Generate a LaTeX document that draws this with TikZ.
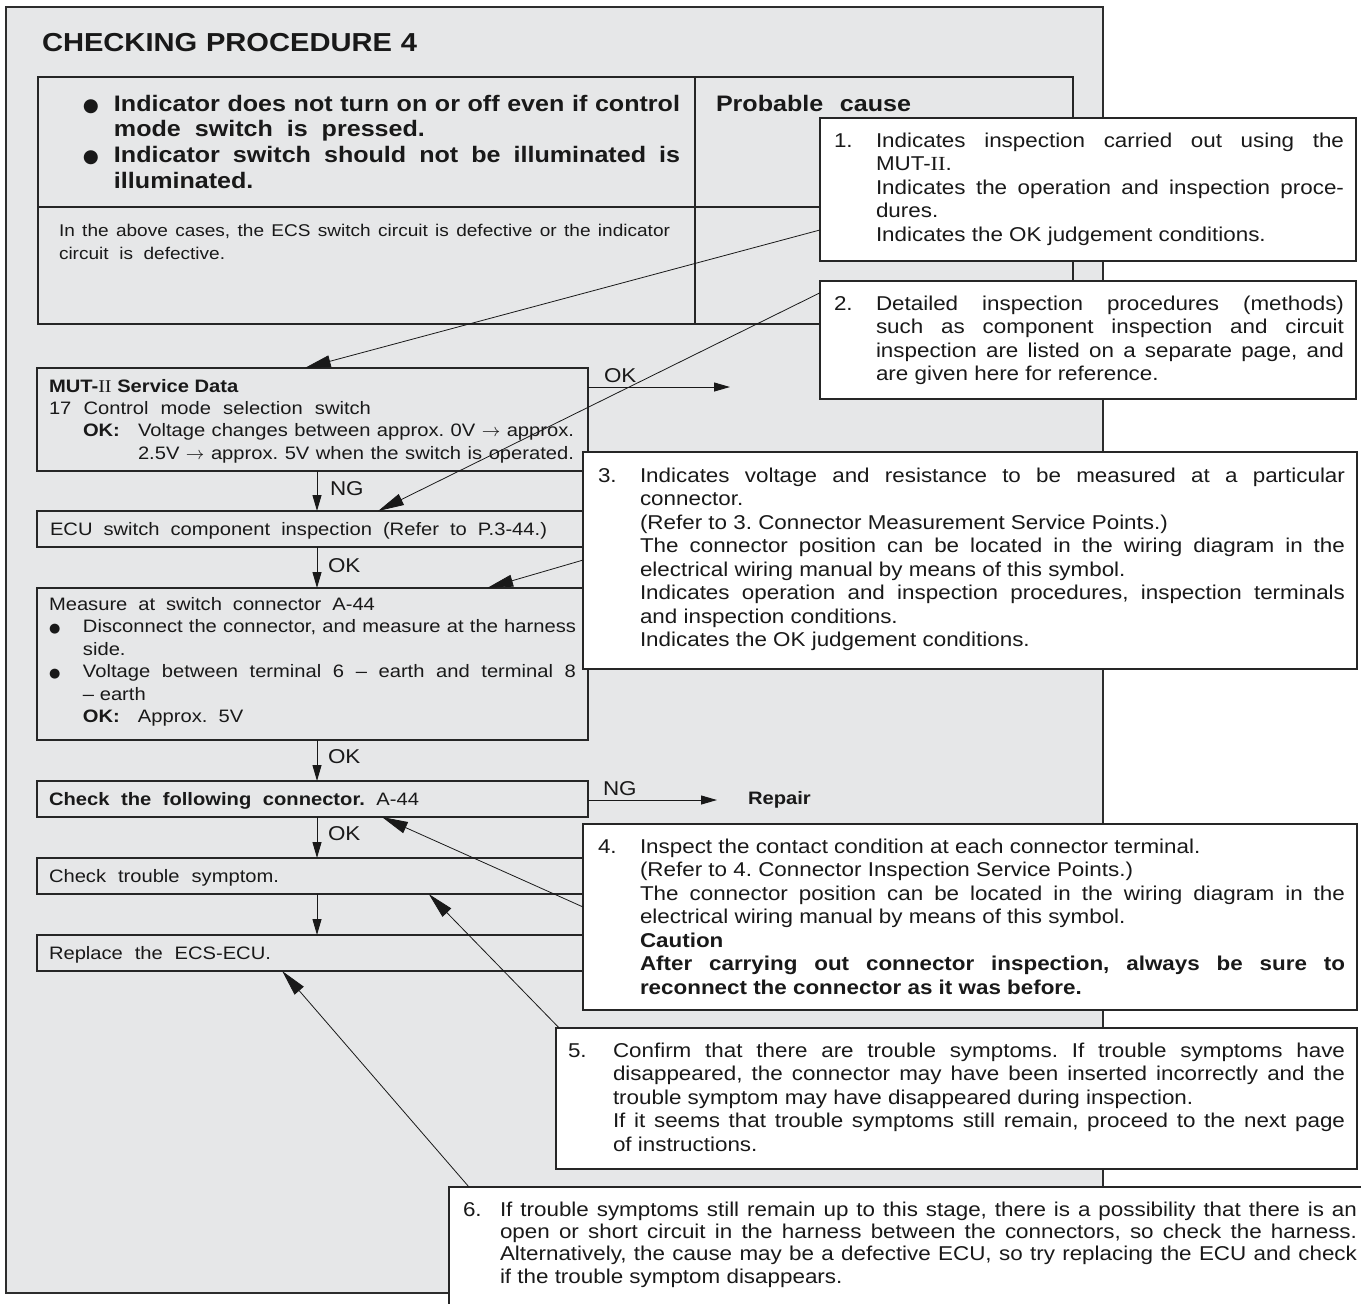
\documentclass[tikz,border=0pt]{standalone}
\usepackage{fontspec}
\setmainfont{Liberation Sans}[FakeStretch=1.12]
\newfontfamily\rmser{Liberation Serif}[FakeStretch=1.12]
\newfontfamily\dejavu{DejaVu Sans}
\usetikzlibrary{arrows.meta,calc,shadows}
\definecolor{panelgray}{RGB}{230,231,232}
\definecolor{edgegray}{RGB}{45,45,45}
\newlength\cw
\newcommand\jl[1]{\hbox to \cw{#1}}
\newcommand\rl[1]{\hbox{#1}}
\newcommand\smbul{{\dejavu\fontsize{6.5}{6.5}\selectfont ●}}
\newcommand\bigbul{{\dejavu\fontsize{9.2}{9.2}\selectfont ●}}
\hbadness=10000
\hfuzz=20pt
\frenchspacing
\begin{document}
\begin{tikzpicture}[x=0.5pt,y=-0.5pt,
  panel/.style={draw=edgegray, fill=panelgray, line width=0.6pt, inner sep=0, outer sep=0, anchor=north west},
  tblbox/.style={draw=black!85, line width=0.6pt, inner sep=0, outer sep=0, anchor=north west},
  flowbox/.style={draw=black!85, line width=0.6pt, inner sep=0, outer sep=0, anchor=north west, minimum width=275.5pt},
  callout/.style={draw=black!85, fill=white, line width=0.6pt, inner sep=0, outer sep=0, anchor=north west,
     drop shadow={shadow xshift=0.7pt, shadow yshift=-0.7pt, opacity=0.55, fill=black}},
  txt/.style={inner sep=0, outer sep=0, anchor=base west, text=black!90},
  ctxt/.style={txt, font=\fontsize{10}{11.75}\selectfont},
  ftxt/.style={txt, font=\fontsize{9}{11.2}\selectfont},
  lbl/.style={txt, font=\fontsize{10}{12}\selectfont},
  flowarr/.style={draw=black!90, line width=0.5pt, -{Triangle[length=8pt,width=4.5pt]}},
  callarr/.style={draw=black!90, line width=0.4pt, -{Triangle[length=13pt,width=6pt]}}
]
\useasboundingbox (0,0) rectangle (1361,1303);

% background panel
\node[panel, minimum width=548.5pt, minimum height=643pt] (panel) at (6,7) {};

% title
\node[txt, font=\bfseries\fontsize{13}{15}\selectfont] (title) at (42,51)
  {\hbox to 187.5pt{CHECKING PROCEDURE 4}};

% table
\node[tblbox, minimum width=517.5pt, minimum height=123.5pt] (tbl) at (38,77) {};
\coordinate (hdiv) at (0,207);
\coordinate (vdiv) at (695,0);
\draw[draw=black!85, line width=0.6pt] (tbl.west |- hdiv) -- (tbl.east |- hdiv);
\draw[draw=black!85, line width=0.6pt] (vdiv |- tbl.north) -- (vdiv |- tbl.south);

\node[txt, font=\bfseries\fontsize{11.2}{12.85}\selectfont] (sympt) at (83,111)
  {\vtop{\baselineskip=12.85pt
   \hbox{\hbox to 15.5pt{\bigbul\hss}\hbox to 283pt{Indicator does not turn on or off even if control}}
   \hbox{\hspace{15.5pt}mode\ \ switch\ \ is\ \ pressed.}
   \hbox{\hbox to 15.5pt{\bigbul\hss}\hbox to 283pt{Indicator switch should not be illuminated is}}
   \hbox{\hspace{15.5pt}illuminated.}}};
\node[txt, font=\bfseries\fontsize{11.2}{12.85}\selectfont] (probc) at (716,111)
  {\hbox to 97.5pt{Probable cause}};
\node[txt, font=\fontsize{8.5}{11.5}\selectfont] (cases) at (59,236)
  {\vtop{\baselineskip=11.6pt
   \hbox to 305.5pt{In the above cases, the ECS switch circuit is defective or the indicator}
   \hbox{circuit\ \ is\ \ defective.}}};

% flow boxes
\node[flowbox, minimum height=51.5pt] (mut) at (37,368) {};
\node[flowbox, minimum height=18pt] (ecu) at (37,511) {};
\node[flowbox, minimum height=76pt] (meas) at (37,588) {};
\node[flowbox, minimum height=18pt] (chk) at (37,781) {};
\node[flowbox, minimum height=18pt] (sym) at (37,858) {};
\node[flowbox, minimum height=18pt] (rep) at (37,935) {};

% flow texts
\node[ftxt] (mutt) at (49,392)
  {\vtop{\baselineskip=11.2pt
   \rl{\textbf{MUT-{\mdseries\rmser II} Service Data}}
   \hbox to 161pt{17 Control mode selection switch}
   \hbox{\hspace{17pt}\hbox to 27.5pt{\textbf{OK:}\hss}\hbox to 218pt{Voltage changes between approx. 0V $\rightarrow$ approx.}}
   \hbox{\hspace{44.5pt}\hbox to 218pt{2.5V $\rightarrow$ approx. 5V when the switch is operated.}}}};
\node[ftxt] (ecut) at (50,535)
  {\hbox to 248.5pt{ECU switch component inspection (Refer to P.3-44.)}};
\node[ftxt] (meast) at (49,610)
  {\vtop{\baselineskip=11.25pt
   \hbox to 163pt{Measure at switch connector A-44}
   \hbox{\hbox to 17pt{\smbul\hss}\hbox to 246.5pt{Disconnect the connector, and measure at the harness}}
   \hbox{\hspace{17pt}side.}
   \hbox{\hbox to 17pt{\smbul\hss}\hbox to 246.5pt{Voltage between terminal 6 – earth and terminal 8}}
   \hbox{\hspace{17pt}– earth}
   \hbox{\hspace{17pt}\hbox to 27.5pt{\textbf{OK:}\hss}Approx.\ \ 5V}}};
\node[ftxt] (chkt) at (49,805)
  {\hbox to 185pt{\textbf{Check the following connector.} A-44}};
\node[ftxt] (symt) at (49,882) {\hbox to 115pt{Check trouble symptom.}};
\node[ftxt] (rept) at (49,959) {\hbox to 111pt{Replace the ECS-ECU.}};

% flow arrows
\coordinate (col) at (317,0);
\draw[flowarr] (col |- mut.south) -- (col |- ecu.north);
\draw[flowarr] (col |- ecu.south) -- (col |- meas.north);
\draw[flowarr] (col |- meas.south) -- (col |- chk.north);
\draw[flowarr] (col |- chk.south) -- (col |- sym.north);
\draw[flowarr] (col |- sym.south) -- (col |- rep.north);
\node[lbl] (ng1) at (330,495) {NG};
\node[lbl] (ok2) at (328,572) {OK};
\node[lbl] (ok3) at (328,763) {OK};
\node[lbl] (ok4) at (328,840) {OK};

\coordinate (okend) at (730,387);
\draw[flowarr] (mut.north east |- okend) -- (okend);
\node[lbl] (okr) at (604,382) {OK};
\node[txt, anchor=west, font=\bfseries\fontsize{9}{11}\selectfont] (repair) at (748,800) {Repair};
\draw[flowarr] (chk.east |- repair.west) -- ([xshift=-15.5pt]repair.west);
\node[lbl] (ngr) at (603,795) {NG};

% callout boxes
\node[callout, minimum width=268pt, minimum height=71.5pt] (c1) at (820,118) {};
\node[callout, minimum width=268pt, minimum height=59pt] (c2) at (820,281) {};
\node[callout, minimum width=387pt, minimum height=108.5pt] (c3) at (583,452) {};
\node[callout, minimum width=387pt, minimum height=93pt] (c4) at (583,824) {};
\node[callout, minimum width=400.5pt, minimum height=70.5pt] (c5) at (556,1028) {};
\node[callout, minimum width=465pt, minimum height=70pt] (c6) at (449,1187) {};

% leader arrows
\draw[callarr] ($(c1.north west)!0.783!(c1.south west)$) -- ($(mut.north west)!0.486!(mut.north east)$);
\draw[callarr] ($(c2.north west)!0.10!(c2.south west)$) -- ($(ecu.north west)!0.619!(ecu.north east)$);
\draw[callarr] ($(c3.north west)!0.498!(c3.south west)$) -- ($(meas.north west)!0.817!(meas.north east)$);
\draw[callarr] ($(c4.north west)!0.446!(c4.south west)$) -- ($(chk.south west)!0.626!(chk.south east)$);
\draw[callarr] ($(c5.north west)!0.004!(c5.north east)$) -- ($(sym.south west)!0.711!(sym.south east)$);
\draw[callarr] ($(c6.north west)!0.0215!(c6.north east)$) -- ($(rep.south west)!0.445!(rep.south east)$);

% callout texts
\node[ctxt] (c1n) at (834,147) {1.};
\node[ctxt] (c1t) at (876,147)
  {\setlength\cw{234pt}\vtop{\baselineskip=11.75pt
   \jl{Indicates inspection carried out using the}
   \rl{MUT-{\rmser II}.}
   \jl{Indicates the operation and inspection proce-}
   \rl{dures.}
   \rl{Indicates the OK judgement conditions.}}};
\node[ctxt] (c2n) at (834,310) {2.};
\node[ctxt] (c2t) at (876,310)
  {\setlength\cw{234pt}\vtop{\baselineskip=11.75pt
   \jl{Detailed inspection procedures (methods)}
   \jl{such as component inspection and circuit}
   \jl{inspection are listed on a separate page, and}
   \rl{are given here for reference.}}};
\node[ctxt] (c3n) at (598,482) {3.};
\node[ctxt] (c3t) at (640,482)
  {\setlength\cw{352.5pt}\vtop{\baselineskip=11.75pt
   \jl{Indicates voltage and resistance to be measured at a particular}
   \rl{connector.}
   \rl{(Refer to 3. Connector Measurement Service Points.)}
   \jl{The connector position can be located in the wiring diagram in the}
   \rl{electrical wiring manual by means of this symbol.}
   \jl{Indicates operation and inspection procedures, inspection terminals}
   \rl{and inspection conditions.}
   \rl{Indicates the OK judgement conditions.}}};
\node[ctxt] (c4n) at (598,853) {4.};
\node[ctxt] (c4t) at (640,853)
  {\setlength\cw{352.5pt}\vtop{\baselineskip=11.75pt
   \rl{Inspect the contact condition at each connector terminal.}
   \rl{(Refer to 4. Connector Inspection Service Points.)}
   \jl{The connector position can be located in the wiring diagram in the}
   \rl{electrical wiring manual by means of this symbol.}
   \rl{\textbf{Caution}}
   \jl{\bfseries After carrying out connector inspection, always be sure to}
   \rl{\textbf{reconnect the connector as it was before.}}}};
\node[ctxt] (c5n) at (568,1057) {5.};
\node[ctxt] (c5t) at (613,1057)
  {\setlength\cw{366pt}\vtop{\baselineskip=11.75pt
   \jl{Confirm that there are trouble symptoms. If trouble symptoms have}
   \jl{disappeared, the connector may have been inserted incorrectly and the}
   \rl{trouble symptom may have disappeared during inspection.}
   \jl{If it seems that trouble symptoms still remain, proceed to the next page}
   \rl{of instructions.}}};
\node[ctxt] (c6n) at (463,1216) {6.};
\node[ctxt] (c6t) at (500,1216)
  {\setlength\cw{428.5pt}\vtop{\baselineskip=11.2pt
   \jl{If trouble symptoms still remain up to this stage, there is a possibility that there is an}
   \jl{open or short circuit in the harness between the connectors, so check the harness.}
   \jl{Alternatively, the cause may be a defective ECU, so try replacing the ECU and check}
   \rl{if the trouble symptom disappears.}}};
\end{tikzpicture}
\end{document}
